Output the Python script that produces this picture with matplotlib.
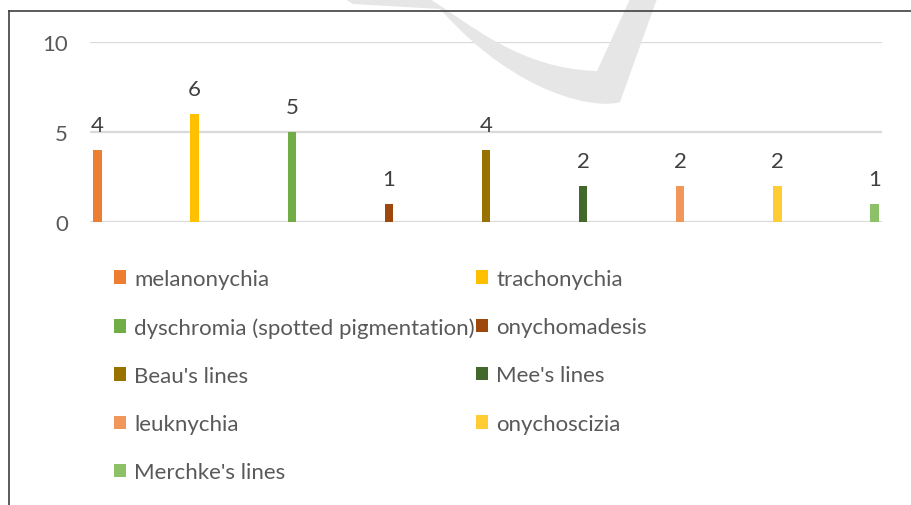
import matplotlib.pyplot as plt
from matplotlib.patches import PathPatch
from matplotlib.path import Path
from matplotlib.lines import Line2D

# nail changes counted in the group
categories = ["melanonychia", "trachonychia", "dyschromia (spotted pigmentation)",
              "onychomadesis", "Beau's lines", "Mee's lines", "leuknychia",
              "onychoscizia", "Merchke's lines"]
counts = [4, 6, 5, 1, 4, 2, 2, 2, 1]
colors = ["#ED7D31", "#FFC000", "#70AD47", "#9E480E", "#997300",
          "#43682B", "#F1975A", "#FFCD33", "#8CC168"]
yticks = [0, 5, 10]

W, H = 912, 506
plt.rcParams['font.family'] = ['Lato', 'DejaVu Sans']
fig = plt.figure(figsize=(W / 100, H / 100), dpi=100)


def fx(px, py):
    return (px / W, 1 - py / H)


# faint watermark swoosh behind the chart (pixel coords, y from top)
verts = [fx(345, 0), fx(430, 0),
         fx(470, 25), fx(520, 70), fx(597, 72),
         fx(630, 0), fx(657, 0), fx(620, 103),
         fx(600, 110), fx(520, 100), fx(440, 10), fx(353, 5),
         fx(345, 0)]
codes = [Path.MOVETO, Path.LINETO,
         Path.CURVE4, Path.CURVE4, Path.CURVE4,
         Path.LINETO, Path.LINETO, Path.LINETO,
         Path.CURVE4, Path.CURVE4, Path.CURVE4, Path.LINETO,
         Path.CLOSEPOLY]
fig.patches.append(PathPatch(Path(verts, codes), transform=fig.transFigure,
                             facecolor="#e6e6e6", edgecolor="none", zorder=0))

# frame lines (top and left)
fig.add_artist(Line2D([9 / W, 1], [1 - 12 / H, 1 - 12 / H], color="#404040", lw=1.2,
                      transform=fig.transFigure))
fig.add_artist(Line2D([9 / W, 9 / W], [0, 1 - 12 / H], color="#404040", lw=1.2,
                      transform=fig.transFigure))

ax = fig.add_axes([90 / W, 1 - 223.3 / H, 792 / W, 180.6 / H])
ax.patch.set_alpha(0)

x = list(range(len(categories)))
bars = []
for i in x:
    b = ax.bar(i, counts[i], width=0.085, color=colors[i], label=categories[i], zorder=3)
    bars.append(b)
    ax.bar_label(b, padding=11, fontsize=16, color="#404040")

ax.set_xlim(-0.077, 8.077)
ax.set_ylim(0, 10)
ax.set_yticks(yticks)
ax.set_xticks([])
ax.yaxis.grid(True, color="#d9d9d9", lw=1.6, zorder=0)
ax.tick_params(axis="y", length=0, pad=16, labelsize=16, labelcolor="#595959")
for s in ax.spines.values():
    s.set_visible(False)

# Excel fills the legend row by row; matplotlib fills columns
order = [0, 2, 4, 6, 8, 1, 3, 5, 7]
handles = [bars[i] for i in order]
labels = [categories[i] for i in order]
leg = fig.legend(handles, labels, ncol=2, loc="upper left",
                 bbox_to_anchor=(114 / W, 1 - 270 / H), frameon=False,
                 borderpad=0, borderaxespad=0,
                 fontsize=16, handlelength=0.55, handleheight=0.55,
                 handletextpad=0.36, columnspacing=0.05, labelspacing=1.27,
                 labelcolor="#595959")

fig.savefig("out.png", dpi=100)
